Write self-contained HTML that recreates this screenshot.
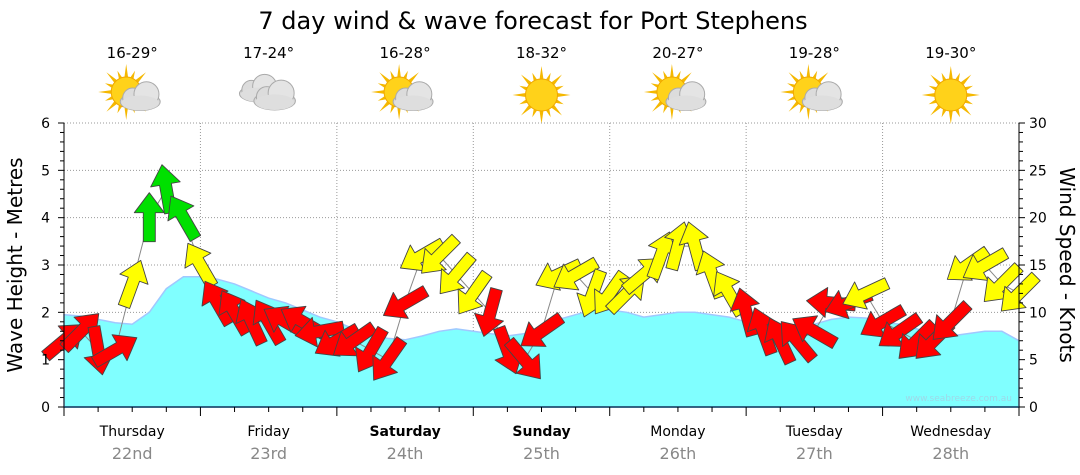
<!DOCTYPE html>
<html><head><meta charset="utf-8"><style>
html,body{margin:0;padding:0;background:#fff;}
svg{display:block;font-family:"DejaVu Sans","Liberation Sans",sans-serif;}
</style></head><body>
<svg id="chart" width="1080" height="475" viewBox="0 0 1080 475" xmlns="http://www.w3.org/2000/svg">
<text x="533" y="29" font-size="24" text-anchor="middle" fill="#000">7 day wind &amp; wave forecast for Port Stephens</text>
<g id="header"></g>
<g id="grid"></g>
<path id="wave" fill="#80ffff" stroke="#a0c8ff" stroke-width="1.5"></path>
<text x="1012" y="401" font-size="9" fill="#9ed8e8" text-anchor="end">www.seabreeze.com.au</text>
<polyline id="windline" fill="none" stroke="#888" stroke-width="1"></polyline>
<g id="arrows"></g>
<g id="axes"></g>
<text transform="translate(22,265) rotate(-90)" font-size="20" text-anchor="middle">Wave Height - Metres</text>
<text transform="translate(1060,265) rotate(90)" font-size="20" text-anchor="middle">Wind Speed - Knots</text>
</svg>
<script>
const days = ["Thursday","Friday","Saturday","Sunday","Monday","Tuesday","Wednesday"];
const dates = ["22nd","23rd","24th","25th","26th","27th","28th"];
const boldDays = [false,false,true,true,false,false,false];
const temps = ["16-29°","17-24°","16-28°","18-32°","20-27°","19-28°","19-30°"];
const icons = ["partly","cloudy","partly","sunny","partly","partly","sunny"];
const waveTicks = [0,1,2,3,4,5,6];
const windTicks = [0,5,10,15,20,25,30];
const waveHeights = [1.95,1.92,1.85,1.78,1.75,2.0,2.5,2.75,2.75,2.7,2.6,2.45,2.3,2.2,2.05,1.9,1.8,1.65,1.5,1.45,1.42,1.5,1.6,1.65,1.6,1.55,1.5,1.55,1.7,1.85,1.95,2.05,2.05,2.0,1.9,1.95,2.0,2.0,1.95,1.9,1.8,1.75,1.7,1.7,1.75,1.85,1.9,1.88,1.8,1.75,1.65,1.55,1.5,1.55,1.6,1.6,1.4];
const windSpeeds = [7,8,6,6,13,20,23,20,15,11,10,9,9,9,9,8,7,7,6,5,11,16,16,14,12,10,6,5,8,14,14,12,12,12,14,16,17,17,14,12,10,8,7,7,8,11,11,12,9,8,7,7,9,15,15,13,12];
const windDirs = [50,45,170,60,20,0,350,330,330,330,330,335,330,300,300,260,240,235,210,215,240,240,225,220,215,195,160,140,235,245,240,200,215,45,50,20,15,345,340,330,345,340,335,320,300,275,250,245,240,235,225,225,225,235,240,225,225];

const X0=64, X1=1019, Y0=407, Y1=123;
const NS="http://www.w3.org/2000/svg";
const dayW=(X1-X0)/7;
function xT(i){return X0+i*(X1-X0)/56;}
function yWave(v){return Y0-(v/6)*(Y0-Y1);}
function yWind(v){return Y0-(v/30)*(Y0-Y1);}
function mk(tag,attrs,parent){const e=document.createElementNS(NS,tag);for(const k in attrs)e.setAttribute(k,attrs[k]);parent.appendChild(e);return e;}

const grid=document.getElementById('grid');
for(let k=1;k<waveTicks.length;k++){
  const l=mk('line',{x1:X0,x2:X1,y1:yWave(waveTicks[k]),y2:yWave(waveTicks[k]),stroke:'#999','stroke-dasharray':'1,2'},grid);
  
  
}
for(let d=1;d<7;d++){
  const l=mk('line',{x1:X0+d*dayW,x2:X0+d*dayW,y1:Y1,y2:Y0,stroke:'#999','stroke-dasharray':'1,2'},grid);
  
  
}

let p='M'+xT(0)+','+Y0;
waveHeights.forEach((v,i)=>{p+=' L'+xT(i).toFixed(1)+','+yWave(v).toFixed(1);});
p+=' L'+xT(56)+','+Y0+' Z';
document.getElementById('wave').setAttribute('d',p);

document.getElementById('windline').setAttribute('points',windSpeeds.map((v,i)=>xT(i).toFixed(1)+','+yWind(v).toFixed(1)).join(' '));

const ag=document.getElementById('arrows');
windSpeeds.forEach((v,i)=>{
  const col=v>=20?'#00e000':(v>=12?'#ffff00':'#ff0000');
  const a=mk('polygon',{points:'0,-25 15,-5 6,-5 6,24 -6,24 -6,-5 -15,-5',fill:col,stroke:'#444','stroke-width':'0.9','stroke-linejoin':'round',
    transform:'translate('+xT(i).toFixed(1)+','+yWind(v).toFixed(1)+') rotate('+windDirs[i]+')'},ag);
  
  
});

const ax=document.getElementById('axes');
mk('line',{x1:X0,x2:X0,y1:Y1,y2:Y0,stroke:'#000'},ax);
mk('line',{x1:X1,x2:X1,y1:Y1,y2:Y0,stroke:'#000'},ax);
mk('line',{x1:X0,x2:X1,y1:Y0,y2:Y0,stroke:'#0a3a5a','stroke-width':1.5},ax);
for(let k=0;k<=30;k++){
  const y=Y0-k*(Y0-Y1)/30;
  const big=k%5===0;
  mk('line',{x1:X0-(big?6:4),x2:X0,y1:y,y2:y,stroke:'#000'},ax);
  mk('line',{x1:X1,x2:X1+(big?6:4),y1:y,y2:y,stroke:'#000'},ax);
}
waveTicks.forEach(v=>{
  const t=mk('text',{x:50,y:yWave(v)+5,'font-size':14,'text-anchor':'end'},ax);
  t.textContent=v;
  
  
});
windTicks.forEach(v=>{
  const t=mk('text',{x:1029,y:yWind(v)+5,'font-size':14,'text-anchor':'start'},ax);
  t.textContent=v;
  
  
});
for(let q=0;q<=28;q++){
  const x=X0+q*dayW/4;
  mk('line',{x1:x,x2:x,y1:Y0,y2:Y0+(q%4===0?9:5),stroke:'#000'},ax);
}
days.forEach((d,i)=>{
  const cx=X0+(i+0.5)*dayW;
  const t=mk('text',{x:cx,y:436,'font-size':14,'text-anchor':'middle','font-weight':boldDays[i]?'bold':'normal'},ax);
  t.textContent=d;
  
  
  const t2=mk('text',{x:cx,y:459,'font-size':16,'text-anchor':'middle',fill:'#888'},ax);
  t2.textContent=dates[i];
  
  
});

const hg=document.getElementById('header');
function sun(g,cx,cy,r){
  for(let k=0;k<16;k++){
    const a=k*Math.PI/8, L=k%2?r+8:r+13;
    mk('polygon',{points:[cx+Math.cos(a)*L,cy+Math.sin(a)*L,cx+Math.cos(a+0.14)*(r-1),cy+Math.sin(a+0.14)*(r-1),cx+Math.cos(a-0.14)*(r-1),cy+Math.sin(a-0.14)*(r-1)].map(n=>n.toFixed(1)).join(','),fill:'#f5b800'},g);
  }
  mk('circle',{cx:cx,cy:cy,r:r,fill:'#ffd21a',stroke:'#f0a800'},g);
}
function cloud(g,cx,cy,s){
  mk('ellipse',{cx:cx,cy:cy+3*s,rx:16*s,ry:7*s,fill:'#d8d8d8',stroke:'#aaa'},g);
  mk('circle',{cx:cx-6*s,cy:cy,r:8*s,fill:'#dcdcdc',stroke:'#aaa'},g);
  mk('circle',{cx:cx+5*s,cy:cy-3*s,r:10*s,fill:'#e4e4e4',stroke:'#aaa'},g);
  mk('ellipse',{cx:cx,cy:cy+4*s,rx:15*s,ry:6*s,fill:'#dedede'},g);
}
temps.forEach((tp,i)=>{
  const cx=X0+(i+0.5)*dayW;
  const t=mk('text',{x:cx,y:58,'font-size':15,'text-anchor':'middle'},hg);
  t.textContent=tp;
  
  
  const g=mk('g',{},hg);
  
  
  if(icons[i]==='sunny'){sun(g,cx,95,16);}
  else if(icons[i]==='partly'){sun(g,cx-6,92,15);cloud(g,cx+8,98,1.25);}
  else {cloud(g,cx-10,90,1.2);cloud(g,cx+6,97,1.3);}
});
</script>
</body></html>
